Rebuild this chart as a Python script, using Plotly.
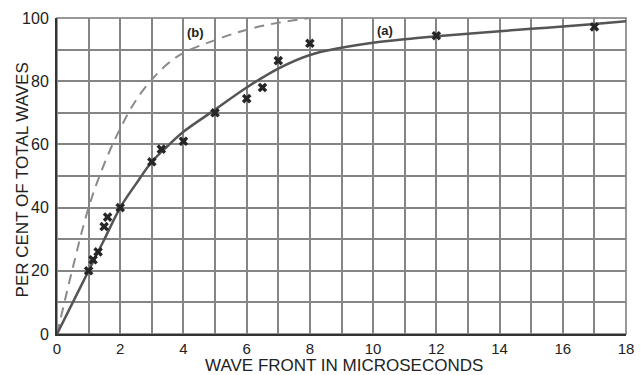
import plotly.graph_objects as go

# Curve (a): smooth solid curve
curve_a_x = [0, 0.5, 1, 1.5, 2, 2.5, 3, 3.5, 4, 5, 6, 7, 8, 9, 10, 11, 12, 13, 14, 15, 16, 17, 18]
curve_a_y = [0, 10, 20, 30, 40, 47.5, 54.5, 59.5, 64, 71, 78, 84, 88.3, 90.6, 92.2, 93.3, 94.2, 95, 95.8, 96.6, 97.3, 98.1, 99]

# Curve (b): dashed curve
curve_b_x = [0, 0.5, 1, 1.5, 2, 2.5, 3, 3.5, 4, 5, 6, 7, 8]
curve_b_y = [0, 21, 40, 54, 65, 74, 80.5, 85.5, 89, 93, 96.3, 98.5, 100]

# Measured points
pts_x = [1, 1.14, 1.3, 1.49, 1.6, 2, 3, 3.3, 4, 5, 6, 6.5, 7, 8, 12, 17]
pts_y = [20, 23.5, 26, 34, 37, 40, 54.5, 58.5, 61, 70, 74.5, 78, 86.5, 92, 94.4, 97.2]

x_ticks = list(range(0, 19, 2))
y_ticks = list(range(0, 101, 20))

FONT = "Liberation Sans, Arial, sans-serif"
TXT = "#222222"
GRID = "#858585"

fig = go.Figure()
fig.add_trace(go.Scatter(x=curve_b_x, y=curve_b_y, mode="lines", line_shape="spline",
                         line=dict(color="#8a8a8a", width=2, dash="10px,7px"), showlegend=False))
fig.add_trace(go.Scatter(x=curve_a_x, y=curve_a_y, mode="lines", line_shape="spline",
                         line=dict(color="#555555", width=2.5), showlegend=False))
fig.add_trace(go.Scatter(x=pts_x, y=pts_y, mode="markers",
                         marker=dict(symbol="x", size=8.5, color="#262626"), showlegend=False))

fig.update_layout(
    width=644, height=375,
    margin=dict(l=57, r=10, t=13, b=41),
    paper_bgcolor="white", plot_bgcolor="white",
    font=dict(family=FONT, size=16, color=TXT),
    xaxis=dict(range=[0, 18], tickvals=x_ticks, ticktext=[str(v) for v in x_ticks],
               showgrid=True, gridcolor=GRID, gridwidth=1.5,
               minor=dict(dtick=1, showgrid=True, gridcolor=GRID, gridwidth=1.5),
               zeroline=False, showline=True, linecolor="#333333", linewidth=2,
               ticks="", ticklabelstandoff=0, tickfont=dict(size=15, color=TXT)),
    yaxis=dict(range=[0, 100], tickvals=y_ticks, ticktext=[str(v) for v in y_ticks],
               showgrid=True, gridcolor=GRID, gridwidth=1.5,
               minor=dict(dtick=10, showgrid=True, gridcolor=GRID, gridwidth=1.5),
               zeroline=False, showline=True, linecolor="#333333", linewidth=2,
               ticks="", ticklabelstandoff=3, tickfont=dict(size=16, color=TXT)),
    shapes=[dict(type="rect", xref="paper", yref="paper", x0=0, y0=0, x1=1, y1=1,
                 line=dict(color="#777777", width=1.5), layer="below")],
    annotations=[
        dict(text="WAVE FRONT IN MICROSECONDS", xref="paper", yref="paper", x=0.505, y=-0.101,
             xanchor="center", yanchor="middle", showarrow=False, font=dict(size=17, color=TXT)),
        dict(text="PER CENT OF TOTAL WAVES", xref="paper", yref="paper", x=-0.0615, y=0.486,
             xanchor="center", yanchor="middle", textangle=-90, showarrow=False,
             font=dict(size=17, color=TXT)),
        dict(text="<b>(b)</b>", x=4.38, y=95.3, xref="x", yref="y", showarrow=False,
             xanchor="center", yanchor="middle", font=dict(size=13, color=TXT)),
        dict(text="<b>(a)</b>", x=10.39, y=96, xref="x", yref="y", showarrow=False,
             xanchor="center", yanchor="middle", font=dict(size=13, color=TXT)),
    ],
)

fig.write_html("out.html", config={"displayModeBar": False},
               post_script="document.body.style.margin='0px';")
